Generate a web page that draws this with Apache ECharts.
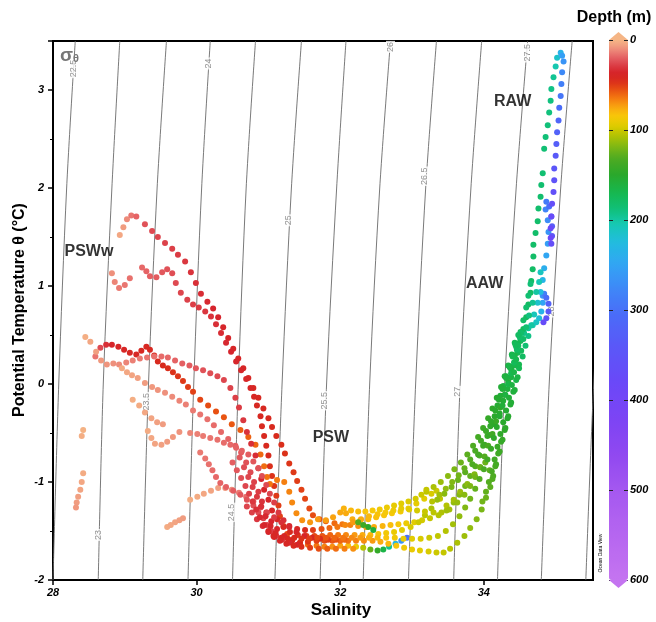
<!DOCTYPE html>
<html><head><meta charset="utf-8">
<script src="https://cdn.jsdelivr.net/npm/echarts@6/dist/echarts.min.js"></script>
<style>html,body{margin:0;padding:0;background:#fff}#c{width:656px;height:622px}</style>
</head><body><div id="c"></div>
<script>
// ---------------- DATA ----------------
// Isopycnals (sigma-theta): salinity read at temperatures -2, 0, 2, 3.5 °C
const isoSigma = [22.5, 23, 23.5, 24, 24.5, 25, 25.5, 26, 26.5, 27, 27.5, 28, 28.5];
const isoTemps = [-2, 0, 2, 3.5];
const isoSalAtM2 = [28.00, 28.63, 29.25, 29.88, 30.50, 31.09, 31.72, 32.32, 32.95, 33.58, 34.19, 34.80, 35.42];
const isoSalAt0  = [28.08, 28.70, 29.33, 29.96, 30.58, 31.19, 31.81, 32.41, 33.05, 33.67, 34.29, 34.91, 35.53];
const isoSalAt2  = [28.19, 28.82, 29.45, 30.07, 30.69, 31.32, 31.95, 32.55, 33.19, 33.82, 34.45, 35.07, 35.69];
const isoSalAt35 = [28.31, 28.93, 29.58, 30.19, 30.82, 31.46, 32.08, 32.70, 33.34, 33.97, 34.61, 35.23, 35.85];
// isopycnal labels
const isoLabelText = ['22.5','23','23.5','24','24.5','25','25.5','26','26.5','27','27.5','28'];
const isoLabelSal  = [28.29, 28.63, 29.30, 30.16, 30.49, 31.28, 31.78, 32.70, 33.18, 33.64, 34.61, 34.94];
const isoLabelTemp = [3.22, -1.54, -0.18, 3.27, -1.31, 1.67, -0.17, 3.44, 2.12, -0.08, 3.38, 0.74];
// water mass labels
const massNames = ['PSWw', 'PSW', 'AAW', 'RAW'];
const massSal   = [28.50, 31.87, 34.01, 34.40];
const massTemp  = [1.35, -0.55, 1.02, 2.88];
// depth colour scale ticks
const depthMin = 0, depthMax = 600, depthStep = 100;

// CTD profiles: [salinity, potential temperature, depth]
const profileA = [[28.93,1.52,4],[28.98,1.60,7],[29.03,1.68,11],[29.09,1.72,15],[29.16,1.71,19],[29.28,1.63,23],[29.38,1.56,25],[29.46,1.50,26],[29.56,1.44,27],[29.66,1.38,28],[29.74,1.32,29],[29.84,1.25,30],[29.92,1.14,31],[29.99,1.03,32],[30.06,0.92,33],[30.15,0.84,34],[30.23,0.77,35],[30.30,0.68,35],[30.37,0.58,36],[30.44,0.47,37],[30.51,0.36,38],[30.58,0.26,38],[30.65,0.16,39],[30.72,0.06,40],[30.79,-0.04,41],[30.86,-0.14,42],[30.93,-0.25,42],[31.00,-0.35,43],[31.05,-0.44,44],[31.11,-0.53,45],[31.18,-0.62,46],[31.23,-0.71,47],[31.29,-0.81,48],[31.35,-0.90,49],[31.40,-0.99,50],[31.46,-1.08,51],[31.51,-1.17,52],[31.57,-1.27,53],[31.62,-1.34,54],[31.71,-1.38,56],[31.80,-1.40,58],
[31.92,-1.42,61],[32.03,-1.43,64],[32.14,-1.44,67],[32.25,-1.45,70],[32.36,-1.46,73],[32.47,-1.46,76],[32.59,-1.45,79],[32.70,-1.44,82],[32.81,-1.43,86],[32.92,-1.42,90],[33.03,-1.41,94],[33.14,-1.39,98],[33.25,-1.37,102],[33.37,-1.34,106],[33.48,-1.29,110],[33.58,-1.21,114],[33.66,-1.13,118],[33.74,-1.04,122],[33.81,-0.94,126],[33.88,-0.84,130],[33.94,-0.73,134],[33.99,-0.63,138],[34.05,-0.53,142],[34.09,-0.43,146],[34.15,-0.33,150],[34.19,-0.22,154],[34.23,-0.12,158],[34.27,-0.02,162],[34.31,0.08,166],[34.36,0.18,170],[34.40,0.29,175],[34.45,0.38,180],[34.51,0.46,186],[34.56,0.52,192],[34.62,0.57,198],[34.68,0.60,204],[34.73,0.63,210],[34.77,0.67,220],[34.80,0.74,235],[34.82,0.83,250],[34.82,0.90,265],[34.84,0.92,285],[34.87,0.88,305],[34.90,0.82,325],[34.90,0.74,340],[34.87,0.67,355],[34.83,0.63,370]];
const profileB = [[28.82,1.13,10],[28.86,1.04,12],[28.92,0.98,14],[29.00,1.01,15],[29.07,1.08,16],[29.24,1.19,18],[29.30,1.15,19],[29.35,1.10,20],[29.44,1.09,21],[29.52,1.14,22],[29.59,1.17,23],[29.66,1.13,24],[29.71,1.03,25],[29.78,0.93,26],[29.87,0.86,27],[29.95,0.81,28],[30.03,0.78,29],[30.12,0.74,30],[30.20,0.69,31],[30.27,0.61,32],[30.34,0.52,33],[30.41,0.42,34],[30.48,0.33,35],[30.55,0.23,36],[30.62,0.14,37],[30.69,0.05,38],[30.75,-0.04,39],[30.80,-0.13,40],[30.84,-0.22,41],[30.89,-0.33,42],[30.91,-0.43,43],[30.94,-0.53,43],[30.97,-0.63,44],[31.00,-0.73,45],[31.02,-0.84,46],[31.05,-0.94,47],[31.08,-1.04,48],[31.11,-1.14,49],[31.14,-1.24,50],[31.16,-1.35,51],[31.21,-1.45,52],[31.26,-1.53,53],[31.33,-1.59,55],[31.44,-1.62,58],[31.55,-1.64,61],[31.67,-1.65,64],[31.78,-1.66,67],[31.89,-1.66,70],[32.00,-1.65,74],[32.11,-1.65,80],[32.22,-1.66,90],[32.32,-1.67,105],[32.42,-1.69,125],[32.52,-1.70,145],[32.60,-1.69,165],[32.68,-1.66,195],[32.77,-1.63,230],[32.85,-1.60,265],[32.93,-1.57,300]];
const profileC = [[28.59,0.28,15],[28.66,0.37,25],[28.74,0.40,32],[28.82,0.40,36],[28.91,0.38,38],[28.99,0.35,39],[29.07,0.32,40],[29.16,0.30,40],[29.23,0.34,41],[29.30,0.38,41],[29.35,0.35,42],[29.41,0.29,43],[29.46,0.23,44],[29.53,0.19,45],[29.60,0.16,46],[29.67,0.12,47],[29.74,0.08,48],[29.81,0.03,49],[29.88,-0.03,50],[29.95,-0.08,51],[30.05,-0.16,52],[30.16,-0.22,54],[30.27,-0.28,55],[30.38,-0.34,56],[30.49,-0.41,57],[30.61,-0.47,58],[30.72,-0.54,59],[30.82,-0.62,60],[30.89,-0.72,61],[30.94,-0.84,62],[30.98,-0.95,63],[31.02,-1.02,64],[31.12,-0.98,65],[31.22,-1.00,66],[31.29,-1.10,67],[31.33,-1.21,68],[31.39,-1.32,69],[31.47,-1.39,70],[31.58,-1.41,71],[31.69,-1.38,72],[31.80,-1.39,73],[31.90,-1.36,74],[32.00,-1.31,75],[32.08,-1.32,76],[32.17,-1.38,77],[32.28,-1.39,78],[32.39,-1.38,80],[32.50,-1.36,82],[32.61,-1.34,84],[32.72,-1.32,86],[32.84,-1.30,88],[32.95,-1.27,90],[33.06,-1.22,92],[33.17,-1.17,94],[33.27,-1.12,97],[33.34,-1.09,100],[33.39,-1.17,103],[33.48,-1.24,106],[33.58,-1.18,109],[33.67,-1.10,112],[33.77,-1.02,115],[33.87,-0.92,118],[33.95,-0.85,121],[34.02,-0.80,124],[34.08,-0.88,127],[34.12,-0.97,130],[34.16,-0.84,134],[34.20,-0.71,138],[34.24,-0.59,142],[34.29,-0.47,146],[34.33,-0.35,150],[34.37,-0.21,155],[34.41,-0.08,160],[34.45,0.04,166],[34.49,0.16,172],[34.54,0.28,178],[34.58,0.39,185],[34.62,0.49,192],[34.66,0.60,200],[34.70,0.71,208],[34.75,0.83,216],[34.79,0.94,224],[34.82,1.06,232],[34.84,1.18,240],[34.87,1.31,248],[34.89,1.43,256],[34.90,1.55,264],[34.89,1.67,272],[34.86,1.78,280],[34.87,1.86,290],[34.91,1.81,305],[34.94,1.71,320],[34.95,1.61,335],[34.95,1.51,350],[34.94,1.43,365]];
const profileD = [[28.45,0.48,2],[28.52,0.43,4],[28.60,0.33,6],[28.67,0.24,8],[28.75,0.20,9],[28.84,0.21,10],[28.92,0.20,11],[29.02,0.22,12],[29.11,0.24,13],[29.21,0.26,14],[29.31,0.27,15],[29.41,0.28,16],[29.51,0.28,17],[29.60,0.27,18],[29.70,0.24,19],[29.80,0.21,20],[29.90,0.19,21],[29.99,0.16,22],[30.09,0.14,23],[30.19,0.11,24],[30.29,0.08,25],[30.38,0.04,26],[30.47,-0.04,27],[30.54,-0.14,28],[30.59,-0.24,29],[30.65,-0.37,30],[30.70,-0.49,31],[30.76,-0.61,32],[30.82,-0.73,33],[30.86,-0.86,34],[30.90,-0.97,35],[30.94,-1.08,36],[31.00,-1.18,37],[31.05,-1.29,38],[31.12,-1.38,40],[31.21,-1.46,42],[31.30,-1.51,44],[31.41,-1.54,47],[31.53,-1.55,50],[31.64,-1.55,53],[31.75,-1.55,56],[31.86,-1.54,60],[31.97,-1.54,64],[32.08,-1.54,68],[32.20,-1.54,72],[32.31,-1.54,76],[32.42,-1.54,80],[32.53,-1.53,84],[32.64,-1.52,88],[32.75,-1.51,91],[32.86,-1.49,94],[32.98,-1.46,97],[33.09,-1.41,100],[33.18,-1.34,104],[33.27,-1.27,108],[33.35,-1.18,112],[33.45,-1.12,116],[33.55,-1.05,120],[33.64,-0.98,124],[33.74,-0.90,128],[33.84,-0.82,132],[33.92,-0.72,136],[34.01,-0.62,140],[34.08,-0.52,144],[34.15,-0.41,148],[34.22,-0.30,152],[34.27,-0.17,156],[34.33,-0.05,160],[34.38,0.07,164],[34.43,0.19,168],[34.47,0.32,172],[34.51,0.44,174],[34.55,0.56,176],[34.59,0.68,177],[34.62,0.81,178],[34.65,0.93,179],[34.66,1.05,180],[34.68,1.17,180],[34.69,1.30,181],[34.69,1.42,181],[34.72,1.54,182],[34.75,1.66,182],[34.76,1.79,183],[34.79,1.91,183],[34.80,2.03,184],[34.82,2.15,185],[34.84,2.40,186],[34.86,2.52,187],[34.89,2.64,188],[34.91,2.77,189],[34.93,2.89,190],[34.94,3.01,192],[34.97,3.13,196],[35.00,3.24,204],[35.02,3.33,215],[35.07,3.38,235],[35.09,3.35,255],[35.11,3.29,265],[35.09,3.18,275],[35.08,3.06,285],[35.07,2.94,295],[35.05,2.82,305],[35.04,2.69,315],[35.02,2.57,322],[35.01,2.45,330],[35.00,2.33,338],[34.98,2.20,345],[34.98,2.08,352],[34.97,1.96,360],[34.95,1.84,366],[34.94,1.71,372],[34.93,1.59,378],[34.93,1.49,385]];
const profileE = [[28.96,0.16,3],[29.03,0.12,4],[29.10,0.09,5],[29.18,0.06,6],[29.28,0.01,7],[29.38,-0.03,8],[29.46,-0.06,9],[29.56,-0.09,10],[29.66,-0.13,11],[29.76,-0.17,12],[29.85,-0.21,13],[29.95,-0.27,14],[30.05,-0.31,15],[30.15,-0.36,16],[30.24,-0.42,17],[30.34,-0.49,18],[30.44,-0.56,19],[30.54,-0.63,20],[30.62,-0.70,21],[30.69,-0.80,23],[30.75,-0.90,25],[30.80,-1.00,27],[30.86,-1.10,29],[30.91,-1.20,31],[30.97,-1.31,33],[31.04,-1.40,35],[31.12,-1.48,37],[31.22,-1.55,39],[31.33,-1.60,42],[31.44,-1.62,45],[31.55,-1.61,48],[31.67,-1.60,51],[31.78,-1.60,54],[31.89,-1.60,57],[32.00,-1.60,60],[32.11,-1.60,63],[32.22,-1.60,66],[32.33,-1.60,69],[32.45,-1.60,72],[32.56,-1.61,76],[32.67,-1.63,80],[32.78,-1.65,84],[32.89,-1.67,88],[33.00,-1.69,91],[33.11,-1.70,94],[33.23,-1.71,97],[33.34,-1.72,100],[33.44,-1.72,102],[33.53,-1.68,105],[33.63,-1.62,108],[33.73,-1.55,111],[33.81,-1.47,114],[33.90,-1.38,117],[33.97,-1.28,120],[34.03,-1.16,124],[34.09,-1.05,128],[34.13,-0.94,132],[34.17,-0.82,136],[34.22,-0.69,140],[34.26,-0.57,144],[34.30,-0.45,148],[34.34,-0.33,152],[34.38,-0.19,156],[34.43,-0.06,160],[34.47,0.07,165],[34.49,0.20,170],[34.52,0.34,175],[34.55,0.46,180],[34.59,0.58,185],[34.63,0.70,190],[34.68,0.83,195],[34.73,0.94,200],[34.77,1.04,205],[34.79,1.14,210]];
const profileF = [[28.42,-0.47,1],[28.40,-0.53,2],[28.42,-0.91,3],[28.40,-1.00,4],[28.38,-1.08,5],[28.35,-1.15,6],[28.33,-1.21,7],[28.32,-1.26,8]];
const profileG1 = [[29.59,-1.46,3],[29.64,-1.44,4],[29.70,-1.41,5],[29.76,-1.39,6],[29.81,-1.37,7]];
const profileG2 = [[29.91,-1.18,2],[30.01,-1.15,3],[30.10,-1.12,4],[30.20,-1.09,5],[30.30,-1.06,6],[30.40,-1.06,8],[30.49,-1.08,11],[30.59,-1.11,14],[30.69,-1.15,17],[30.79,-1.20,20],[30.89,-1.26,23],[30.98,-1.31,26],[31.08,-1.36,29],[31.18,-1.41,32],[31.29,-1.45,36],[31.40,-1.48,40],[31.51,-1.49,45],[31.62,-1.49,50],[31.74,-1.48,55],[31.85,-1.47,60],[31.96,-1.46,64],[32.07,-1.44,68],[32.18,-1.41,72],[32.29,-1.38,76],[32.40,-1.35,80],[32.52,-1.33,83],[32.63,-1.31,86],[32.74,-1.29,89],[32.85,-1.27,92],[32.96,-1.28,95],[33.07,-1.29,98],[33.18,-1.30,101],[33.30,-1.31,104],[33.41,-1.31,107],[33.52,-1.28,110],[33.63,-1.21,113],[33.73,-1.13,116],[33.81,-1.04,119],[33.88,-0.95,122],[33.95,-0.85,126],[34.01,-0.74,130],[34.06,-0.63,134],[34.12,-0.51,138],[34.17,-0.38,142],[34.23,-0.24,146],[34.29,-0.11,150],[34.34,0.02,155],[34.38,0.15,160],[34.43,0.29,165],[34.47,0.41,170],[34.51,0.53,175],[34.55,0.65,180],[34.59,0.78,183],[34.62,0.90,185],[34.65,1.02,187]];
const profileH = [[29.91,-0.50,12],[30.01,-0.51,13],[30.09,-0.53,14],[30.19,-0.55,15],[30.29,-0.57,16],[30.38,-0.60,17],[30.47,-0.62,18],[30.55,-0.65,19],[30.63,-0.68,20],[30.72,-0.72,21],[30.79,-0.79,22],[30.86,-0.86,23],[30.91,-0.94,24],[30.97,-1.03,25],[31.02,-1.12,26],[31.08,-1.21,28],[31.14,-1.31,30],[31.21,-1.39,32],[31.29,-1.46,34],[31.39,-1.51,36],[31.50,-1.55,38],[31.61,-1.57,42],[31.72,-1.58,46],[31.83,-1.59,50],[31.94,-1.59,55],[32.06,-1.59,60]];
const profileH2 = [[30.05,-0.70,14],[30.12,-0.76,15],[30.17,-0.82,16],[30.22,-0.88,17],[30.27,-0.95,18],[30.33,-1.01,19],[30.41,-1.05,20],[30.51,-1.09,21],[30.61,-1.13,22],[30.70,-1.18,23],[30.79,-1.24,24],[30.86,-1.31,25],[30.93,-1.37,26],[30.98,-1.44,27],[31.04,-1.50,28],[31.11,-1.55,30],[31.19,-1.59,32],[31.29,-1.62,34],[31.40,-1.64,37]];
const profileI1 = [[29.11,-0.16,2],[29.20,-0.22,3],[29.28,-0.29,4],[29.37,-0.35,5],[29.45,-0.39,6],[29.53,-0.41,7]];
const profileI2 = [[29.32,-0.48,3],[29.37,-0.55,4],[29.42,-0.61,5],[29.51,-0.62,6],[29.59,-0.59,7],[29.67,-0.54,8],[29.76,-0.49,9]];
const profileJ = [[32.25,-1.41,130],[32.32,-1.44,140],[32.39,-1.46,150],[32.46,-1.49,160]];
const profileK = [[30.60,-0.75,22],[30.66,-0.85,24],[30.72,-0.95,26],[30.78,-1.05,28],[30.84,-1.15,30],[30.90,-1.25,32],[30.96,-1.35,34],[31.03,-1.45,36],[31.10,-1.52,38],[31.18,-1.57,40],[31.27,-1.58,42],[31.36,-1.57,44],[31.46,-1.58,47],[31.57,-1.58,50],[31.68,-1.57,53],[31.80,-1.57,56],[31.92,-1.57,60],[32.04,-1.57,64],[32.16,-1.57,68],[32.28,-1.57,72],[32.40,-1.57,76],[32.52,-1.57,80],[32.64,-1.57,84],[32.76,-1.57,88],[32.88,-1.58,91],[33.00,-1.58,94],[33.12,-1.58,97],[33.24,-1.57,100],[33.36,-1.55,103],[33.47,-1.50,106],[33.57,-1.43,110],[33.66,-1.35,114],[33.74,-1.26,118],[33.81,-1.17,122],[33.88,-1.07,126],[33.94,-0.97,130],[34.00,-0.87,134],[34.05,-0.77,138],[34.10,-0.66,142],[34.14,-0.55,146],[34.18,-0.44,150],[34.22,-0.33,154],[34.26,-0.22,158],[34.30,-0.11,162],[34.34,0.00,166],[34.38,0.11,170],[34.42,0.22,174],[34.46,0.35,178],[34.50,0.48,182]];
const profileL = [[33.20,-1.10,104],[33.30,-1.05,108],[33.40,-1.00,112],[33.50,-0.94,116],[33.59,-0.87,120],[33.68,-0.80,124],[33.77,-0.72,128],[33.85,-0.63,132],[33.92,-0.54,136],[33.99,-0.45,140],[34.06,-0.35,144],[34.12,-0.25,148],[34.18,-0.14,152],[34.24,-0.03,156],[34.29,0.08,160],[34.34,0.19,164],[34.39,0.30,168],[34.43,0.42,172]];
const profileM = [[32.05,-1.27,78],[32.15,-1.29,80],[32.25,-1.30,82],[32.35,-1.30,84],[32.45,-1.29,86],[32.55,-1.28,88],[32.65,-1.26,90],[32.75,-1.24,92],[32.85,-1.22,94],[32.95,-1.20,96],[33.05,-1.17,98],[33.13,-1.13,100],[33.20,-1.08,102]];
const profileN = [[30.70,-1.25,26],[30.77,-1.31,28],[30.84,-1.38,30],[30.92,-1.45,32],[31.00,-1.51,34],[31.08,-1.56,36],[31.16,-1.60,38],[31.25,-1.63,40],[31.35,-1.65,43],[31.46,-1.66,46],[31.58,-1.67,50],[31.70,-1.68,54],[31.82,-1.68,58],[31.94,-1.68,62],[32.06,-1.68,66],[32.18,-1.68,70]];
const profileO = [[30.50,-0.80,20],[30.56,-0.88,22],[30.62,-0.96,24],[30.68,-1.04,26],[30.73,-1.12,28],[30.78,-1.20,30],[30.83,-1.28,32],[30.88,-1.36,34],[30.94,-1.44,36],[31.00,-1.50,38],[31.07,-1.55,40]];
const profileP = [[33.98,-1.20,122],[34.03,-1.10,126],[34.07,-1.00,130],[34.11,-0.89,134],[34.15,-0.77,138],[34.19,-0.64,142],[34.23,-0.51,146],[34.27,-0.39,150],[34.31,-0.27,154],[34.35,-0.14,158],[34.39,-0.01,162],[34.42,0.12,166],[34.45,0.25,170],[34.48,0.39,176],[34.52,0.52,182]];
const profileQ = [[33.28,-1.20,106],[33.38,-1.13,110],[33.47,-1.07,114],[33.56,-1.00,118],[33.65,-0.93,122],[33.73,-0.86,126],[33.81,-0.77,130],[33.88,-0.68,134],[33.96,-0.58,138],[34.03,-0.48,142],[34.10,-0.38,146],[34.16,-0.27,150],[34.21,-0.16,154],[34.26,-0.05,158],[34.31,0.06,162],[34.36,0.17,166],[34.40,0.28,170],[34.44,0.40,174],[34.48,0.50,178]];

const profiles = [profileA, profileB, profileC, profileD, profileE, profileF, profileG1, profileG2, profileH, profileH2, profileI1, profileI2, profileJ, profileK, profileL, profileM, profileN, profileO, profileP, profileQ];

// ---------------- STYLE ----------------
const FONT = "'Liberation Sans', Arial, sans-serif";
const colorStops = [[0,'#f5b585'],[8,'#f09a80'],[16,'#e8706e'],[25,'#de4a52'],[35,'#d6242c'],[45,'#d82a1c'],[55,'#e85012'],[65,'#f47a10'],[75,'#f9a810'],[85,'#f8c808'],[95,'#e0cc00'],[105,'#b8c400'],[118,'#80b814'],[132,'#4caa22'],[150,'#2aa82c'],[170,'#16b850'],[188,'#10c078'],[205,'#16c8b4'],[225,'#22bce0'],[250,'#32a4f4'],[280,'#4084f8'],[305,'#4a6cf8'],[340,'#5a58f8'],[380,'#6a48f8'],[420,'#7c44f4'],[460,'#9048f0'],[500,'#a458f0'],[550,'#b666f0'],[600,'#c474f0']];
function hex2rgb(h){return [parseInt(h.substr(1,2),16),parseInt(h.substr(3,2),16),parseInt(h.substr(5,2),16)];}
function buildColors(step){
  const out=[];
  for(let d=depthMin; d<=depthMax; d+=step){
    let i=0; while(i<colorStops.length-2 && colorStops[i+1][0]<d) i++;
    const [d0,c0]=colorStops[i], [d1,c1]=colorStops[i+1];
    const t=Math.max(0,Math.min(1,(d-d0)/(d1-d0)));
    const a=hex2rgb(c0), b=hex2rgb(c1);
    out.push('rgb('+a.map((v,k)=>Math.round(v+(b[k]-v)*t)).join(',')+')');
  }
  return out;
}

const series = [];
isoSigma.forEach((s, i) => {
  series.push({
    type: 'line', xAxisIndex: 0, yAxisIndex: 0, silent: true, symbol: 'none', smooth: 0.3,
    lineStyle: { color: '#6a6a6a', width: 0.9 }, z: 1,
    data: isoTemps.map((t, k) => [[isoSalAtM2, isoSalAt0, isoSalAt2, isoSalAt35][k][i], t])
  });
});
series.push({
  type: 'scatter', silent: true, symbolSize: 0, z: 2,
  data: isoLabelText.map((t, i) => ({ value: [isoLabelSal[i], isoLabelTemp[i]], name: t })),
  label: { show: true, position: 'inside', rotate: 90, formatter: p => p.name, color: '#777', fontSize: 9,
           fontFamily: FONT, backgroundColor: '#fff', padding: [0, 1] }
});
const scatterIndex = series.length;
series.push({
  type: 'scatter', symbolSize: 6, z: 3, silent: true,
  itemStyle: { opacity: 1 },
  data: [].concat(...profiles)
});
series.push({
  type: 'scatter', silent: true, symbolSize: 0, z: 5,
  data: massNames.map((n, i) => ({ value: [massSal[i], massTemp[i]], name: n })),
  label: { show: true, position: 'inside', formatter: p => p.name, color: '#000', fontSize: 16,
           fontWeight: 'bold', fontFamily: FONT }
});

const tickLabel = { color: '#000', fontSize: 11, fontWeight: 'bold', fontStyle: 'italic', fontFamily: FONT };

const option = {
  animation: false,
  backgroundColor: '#fff',
  grid: [
    { left: 53, top: 41, width: 540, height: 539, show: true, borderColor: '#000', borderWidth: 2, backgroundColor: 'transparent' },
    { left: 609, top: 40, width: 19, height: 540, show: false }
  ],
  xAxis: [
    { type: 'value', gridIndex: 0, min: 28, max: 35.52, interval: 2,
      axisLine: { onZero: false, lineStyle: { color: '#000', width: 2 } },
      axisTick: { inside: false, length: 5, lineStyle: { color: '#000', width: 1.5 } },
      axisLabel: Object.assign({ margin: 7, showMaxLabel: false }, tickLabel),
      splitLine: { show: false } },
    { type: 'value', gridIndex: 1, min: 0, max: 1, show: false, axisLine: { onZero: false } }
  ],
  yAxis: [
    { type: 'value', gridIndex: 0, min: -2, max: 3.5, interval: 1,
      axisLine: { onZero: false, lineStyle: { color: '#000', width: 2 } },
      axisTick: { inside: false, length: 5, lineStyle: { color: '#000', width: 1.5 } },
      minorTick: { show: true, splitNumber: 2, length: 3, lineStyle: { color: '#000', width: 1 } },
      axisLabel: Object.assign({ margin: 9, showMaxLabel: false }, tickLabel),
      splitLine: { show: false } },
    { type: 'value', gridIndex: 1, position: 'right', inverse: true, min: depthMin, max: depthMax, interval: depthStep, z: 10,
      axisLine: { show: false, onZero: false },
      axisTick: { inside: true, length: 4, lineStyle: { color: '#222', width: 1 } },
      axisLabel: Object.assign({ margin: 2 }, tickLabel),
      splitLine: { show: false } },
    { type: 'value', gridIndex: 1, position: 'left', inverse: true, min: depthMin, max: depthMax, interval: depthStep, z: 10,
      axisLine: { show: false, onZero: false },
      axisTick: { inside: true, length: 4, lineStyle: { color: '#222', width: 1 } },
      axisLabel: { show: false },
      splitLine: { show: false } }
  ],
  visualMap: {
    type: 'continuous', min: depthMin, max: depthMax, dimension: 2, seriesIndex: [scatterIndex],
    orient: 'vertical', inverse: true, left: 609, top: 40, itemWidth: 19, itemHeight: 540,
    calculable: false, hoverLink: false, padding: 0, text: null, showLabel: false,
    inRange: { color: buildColors(5) }
  },
  graphic: [
    { type: 'polygon', shape: { points: [[609, 40], [618.5, 32], [628, 40]] }, style: { fill: '#f5b585' }, z: 20 },
    { type: 'polygon', shape: { points: [[609, 580], [618.5, 588], [628, 580]] }, style: { fill: '#c474f0' }, z: 20 },
    { type: 'text', x: 20, y: 310, rotation: Math.PI / 2,
      style: { text: 'Potential Temperature θ (°C)', font: 'bold 16px ' + FONT, fill: '#000', textAlign: 'center', textVerticalAlign: 'middle' } },
    { type: 'text', x: 341, y: 610,
      style: { text: 'Salinity', font: 'bold 17px ' + FONT, fill: '#000', textAlign: 'center', textVerticalAlign: 'middle' } },
    { type: 'text', x: 614, y: 18,
      style: { text: 'Depth (m)', font: 'bold 16px ' + FONT, fill: '#000', textAlign: 'center', textVerticalAlign: 'middle' } },
    { type: 'text', x: 60, y: 46, z: 20,
      style: { text: '{a|σ}{b|θ}', rich: { a: { font: 'bold 19px ' + FONT, fill: '#777', color: '#777' }, b: { font: 'bold 11px ' + FONT, color: '#777', fill: '#777', padding: [6, 0, 0, 0] } } } },
    { type: 'text', x: 601, y: 553, rotation: Math.PI / 2,
      style: { text: 'Ocean Data View', font: '5px ' + FONT, fill: '#000', textAlign: 'center', textVerticalAlign: 'middle' } }
  ],
  series: series
};

const chart = echarts.init(document.getElementById('c'), null, { renderer: 'canvas' });
chart.setOption(option);
</script></body></html>
